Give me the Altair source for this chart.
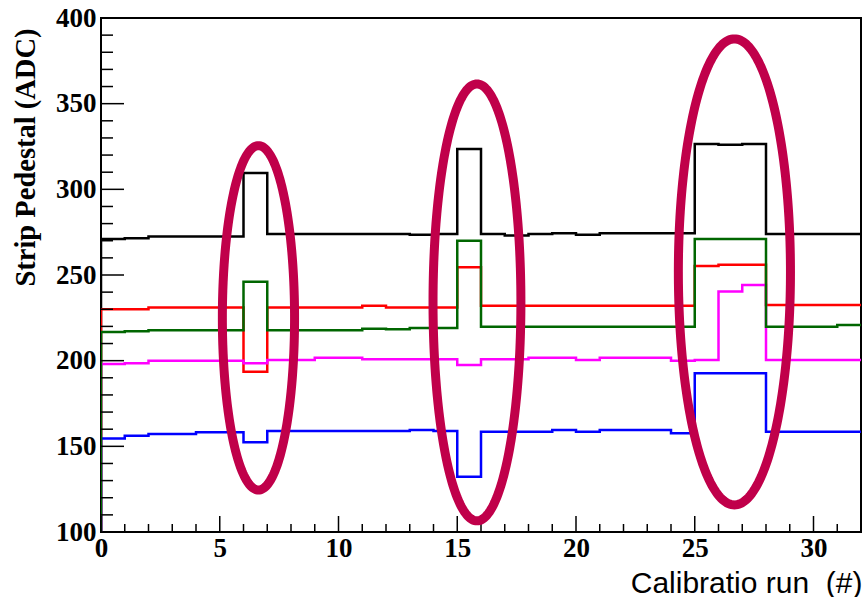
import altair as alt
import numpy as np
import pandas as pd

# ---------------- data ----------------
runs = list(range(32))  # bin lower edges, 32 calibration runs

black = [271.0, 271.5, 272.5, 272.5, 272.5, 272.5, 309.5, 274.0, 274.0, 274.0,
         274.0, 274.0, 274.0, 273.5, 274.0, 323.5, 274.0, 273.0, 274.0, 274.3,
         273.5, 274.3, 274.3, 274.3, 274.3, 326.5, 326.0, 326.5, 274.0, 274.0,
         274.0, 274.0]
red = [230.0, 230.0, 231.0, 231.0, 231.0, 231.0, 193.5, 231.0, 231.0, 231.0,
       231.0, 232.0, 231.0, 231.0, 231.0, 254.5, 232.0, 232.0, 232.0, 232.0,
       232.0, 232.0, 232.0, 232.0, 232.0, 255.3, 256.0, 256.0, 232.5, 232.5,
       232.5, 232.5]
magenta = [198.0, 198.5, 200.0, 200.0, 200.0, 200.0, 198.5, 200.4, 200.4, 201.7,
           201.7, 200.8, 200.8, 200.8, 200.8, 197.5, 200.8, 200.8, 201.7, 201.7,
           200.4, 201.7, 201.7, 201.7, 200.0, 200.4, 240.3, 244.2, 200.4, 200.4,
           200.4, 200.4]
blue = [154.5, 156.2, 157.2, 157.2, 158.2, 158.2, 152.4, 158.9, 158.9, 158.9,
        158.9, 158.9, 158.9, 159.5, 158.9, 132.3, 158.5, 158.5, 158.5, 159.5,
        158.5, 159.5, 159.5, 159.5, 157.6, 192.6, 192.6, 192.6, 158.5, 158.5,
        158.5, 158.5]
green = [216.7, 217.2, 217.8, 217.8, 217.8, 217.8, 246.0, 217.8, 217.8, 217.8,
         217.8, 218.7, 218.3, 219.1, 219.1, 270.0, 219.8, 219.8, 219.8, 219.8,
         219.8, 219.8, 219.8, 219.8, 219.8, 271.0, 271.0, 271.0, 219.8, 219.8,
         219.8, 220.8]

series_names = ["black", "red", "magenta", "blue", "green"]
series_values = [black, red, magenta, blue, green]
series_colors = ["#000000", "#ff0000", "#ff00ff", "#0000ff", "#006600"]

# highlight ellipses (data units)
ell_cx = [6.63, 15.83, 26.67]
ell_cy = [225.0, 234.0, 251.8]
ell_rx = [1.52, 1.85, 2.36]
ell_ry = [100.5, 127.5, 136.0]

x_major_ticks = [0, 5, 10, 15, 20, 25, 30]
x_minor_ticks = [v for v in range(0, 33) if v % 5 != 0]
y_major_ticks = [100, 150, 200, 250, 300, 350, 400]
y_minor_ticks = [v for v in range(100, 401, 10) if v % 50 != 0]

x_title = "Calibratio run\u00a0\u00a0(#)"
y_title = "Strip Pedestal (ADC)"

# ---------------- chart ----------------
W, H = 760, 514
xs = alt.Scale(domain=[0, 32], nice=False, zero=False)
ys = alt.Scale(domain=[100, 400], nice=False, zero=False)

x_axis = alt.Axis(values=x_major_ticks, format="d", grid=False, ticks=False, tickSize=0,
                  domain=False, labelFont="Liberation Serif", labelFontWeight="bold",
                  labelFontSize=27, labelColor="black", labelPadding=3, labelFlush=False,
                  title=x_title, titleFont="Liberation Sans",
                  titleFontWeight="normal", titleFontSize=30, titleColor="black",
                  titleAnchor="end", titleAlign="right", titleBaseline="alphabetic",
                  titleX=W + 1, titleY=60)
y_axis = alt.Axis(values=y_major_ticks, format="d", grid=False, ticks=False, tickSize=0,
                  domain=False, labelFont="Liberation Serif", labelFontWeight="bold",
                  labelFontSize=27, labelColor="black", labelPadding=5, labelFlush=False,
                  title=y_title, titleFont="Liberation Serif",
                  titleFontWeight="bold", titleFontSize=28.5, titleColor="black",
                  titleAngle=270, titleAlign="right", titleBaseline="middle",
                  titleX=-76, titleY=10)

layers = []
for name, vals, col in zip(series_names, series_values, series_colors):
    xs_pts = [0] + runs + [32]
    ys_pts = [100] + vals + [vals[-1]]
    df = pd.DataFrame({"run": xs_pts, "ped": ys_pts, "i": list(range(len(xs_pts)))})
    layers.append(
        alt.Chart(df).mark_line(interpolate="step-after", color=col, strokeWidth=2.5,
                                clip=True).encode(
            x=alt.X("run:Q", scale=xs, axis=x_axis),
            y=alt.Y("ped:Q", scale=ys, axis=y_axis),
            order="i:Q",
        )
    )

# ticks drawn inward (ROOT style)
ymaj = alt.Chart(pd.DataFrame({"v": y_major_ticks})).mark_rule(color="black", strokeWidth=1.5).encode(
    y=alt.Y("v:Q", scale=ys, axis=y_axis), x=alt.value(0), x2=alt.value(23))
ymin = alt.Chart(pd.DataFrame({"v": y_minor_ticks})).mark_rule(color="black", strokeWidth=1.5).encode(
    y=alt.Y("v:Q", scale=ys, axis=y_axis), x=alt.value(0), x2=alt.value(12))
xmaj = alt.Chart(pd.DataFrame({"v": x_major_ticks})).mark_rule(color="black", strokeWidth=1.5).encode(
    x=alt.X("v:Q", scale=xs, axis=x_axis), y=alt.value(H), y2=alt.value(H - 16))
xmin = alt.Chart(pd.DataFrame({"v": x_minor_ticks})).mark_rule(color="black", strokeWidth=1.5).encode(
    x=alt.X("v:Q", scale=xs, axis=x_axis), y=alt.value(H), y2=alt.value(H - 8))

# ellipses
t = np.linspace(0, 2 * np.pi, 241)
rows = []
for k, (cx, cy, rx, ry) in enumerate(zip(ell_cx, ell_cy, ell_rx, ell_ry)):
    for j, tt in enumerate(t):
        rows.append({"e": k, "j": j, "ex": cx + rx * np.cos(tt), "ey": cy + ry * np.sin(tt)})
ell_df = pd.DataFrame(rows)
ell = alt.Chart(ell_df).mark_line(color="#c0004a", strokeWidth=9, strokeCap="round").encode(
    x=alt.X("ex:Q", scale=xs, axis=x_axis), y=alt.Y("ey:Q", scale=ys, axis=y_axis),
    detail="e:N", order="j:Q")

chart = alt.layer(*layers, ymaj, ymin, xmaj, xmin, ell).properties(
    width=W, height=H,
    autosize=alt.AutoSizeParams(type="none"),
    padding={"left": 101, "top": 18, "right": 3, "bottom": 65},
    background="white",
).configure_view(stroke="black", strokeWidth=2).configure_axis(
    labelFont="Liberation Serif", labelFontWeight="bold", labelColor="black")

chart.save("out.html", embed_options={"renderer": "svg", "actions": False})
